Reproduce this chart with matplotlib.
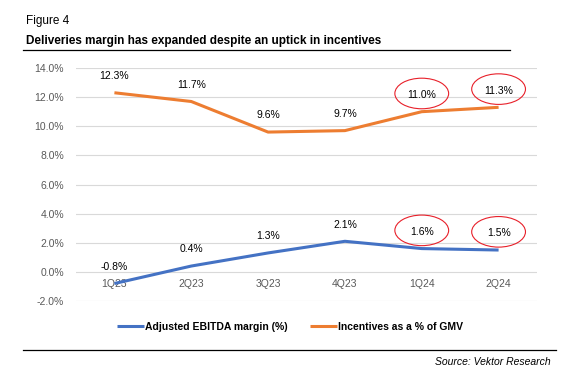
import matplotlib.pyplot as plt
import matplotlib
from matplotlib.patches import Ellipse
from matplotlib.lines import Line2D
import matplotlib.ticker as ticker

matplotlib.rcParams['font.family'] = ['Liberation Sans', 'DejaVu Sans']

# 数据
quarters = ["1Q23", "2Q23", "3Q23", "4Q23", "1Q24", "2Q24"]
ebitda_margin = [-0.8, 0.4, 1.3, 2.1, 1.6, 1.5]
incentives = [12.3, 11.7, 9.6, 9.7, 11.0, 11.3]
circled = [4, 5]  # 圈出的季度

blue = '#4472C4'
orange = '#ED7D31'

fig = plt.figure(figsize=(5.69, 3.76), dpi=100)
ax = fig.add_axes([76 / 569, 75 / 376, 461 / 569, 233 / 376])

x = list(range(len(quarters)))
ax.plot(x, ebitda_margin, color=blue, lw=2.2, label="Adjusted EBITDA margin (%)", solid_capstyle='butt')
ax.plot(x, incentives, color=orange, lw=2.2, label="Incentives as a % of GMV", solid_capstyle='butt')

# 数值标签
for series in (ebitda_margin, incentives):
    for xi, yi in zip(x, series):
        ax.annotate(f"{yi:.1f}%", (xi, yi), xytext=(0, 12), textcoords='offset points',
                    ha='center', va='center', fontsize=7.5, color='black')
    for i in circled:
        ax.add_patch(Ellipse((i, series[i] + 1.25), 0.7, 2.1, fill=False, ec='#E8202A', lw=0.8))

# 坐标轴
ax.set_xlim(-0.5, 5.5)
ax.set_ylim(-2, 14)
ax.yaxis.set_major_locator(ticker.MultipleLocator(2))
ax.yaxis.set_major_formatter(ticker.FuncFormatter(lambda v, p: f"{v:.1f}%"))
ax.set_xticks(x)
ax.set_xticklabels(quarters)
ax.spines['bottom'].set_position(('data', 0))
for s in ax.spines.values():
    s.set_visible(False)
ax.tick_params(axis='both', length=0, labelsize=7.5, colors='#595959')
ax.tick_params(axis='y', pad=8.5)
ax.tick_params(axis='x', pad=5)
ax.grid(axis='y', color='#D9D9D9', lw=0.8)
ax.set_axisbelow(True)

ax.legend(loc='center', bbox_to_anchor=(0.464, -0.11), ncol=2, frameon=False,
          prop={'size': 7.5, 'weight': 'bold'}, handlelength=2.6, handletextpad=0.05,
          columnspacing=2.2)

# 标题与来源
fig.text(26 / 569, 1 - 21 / 376, "Figure 4", fontsize=8.5, va='center')
fig.text(26 / 569, 1 - 41 / 376, "Deliveries margin has expanded despite an uptick in incentives",
         fontsize=8.5, fontweight='bold', va='center')
fig.add_artist(Line2D([23 / 569, 510 / 569], [1 - 50 / 376] * 2, color='black', lw=0.9))
fig.add_artist(Line2D([23 / 569, 556 / 569], [1 - 350 / 376] * 2, color='black', lw=0.9))
fig.text(551 / 569, 1 - 362 / 376, "Source: Vektor Research", fontsize=7.5, style='italic',
         ha='right', va='center')

plt.savefig("out.png", dpi=100)
